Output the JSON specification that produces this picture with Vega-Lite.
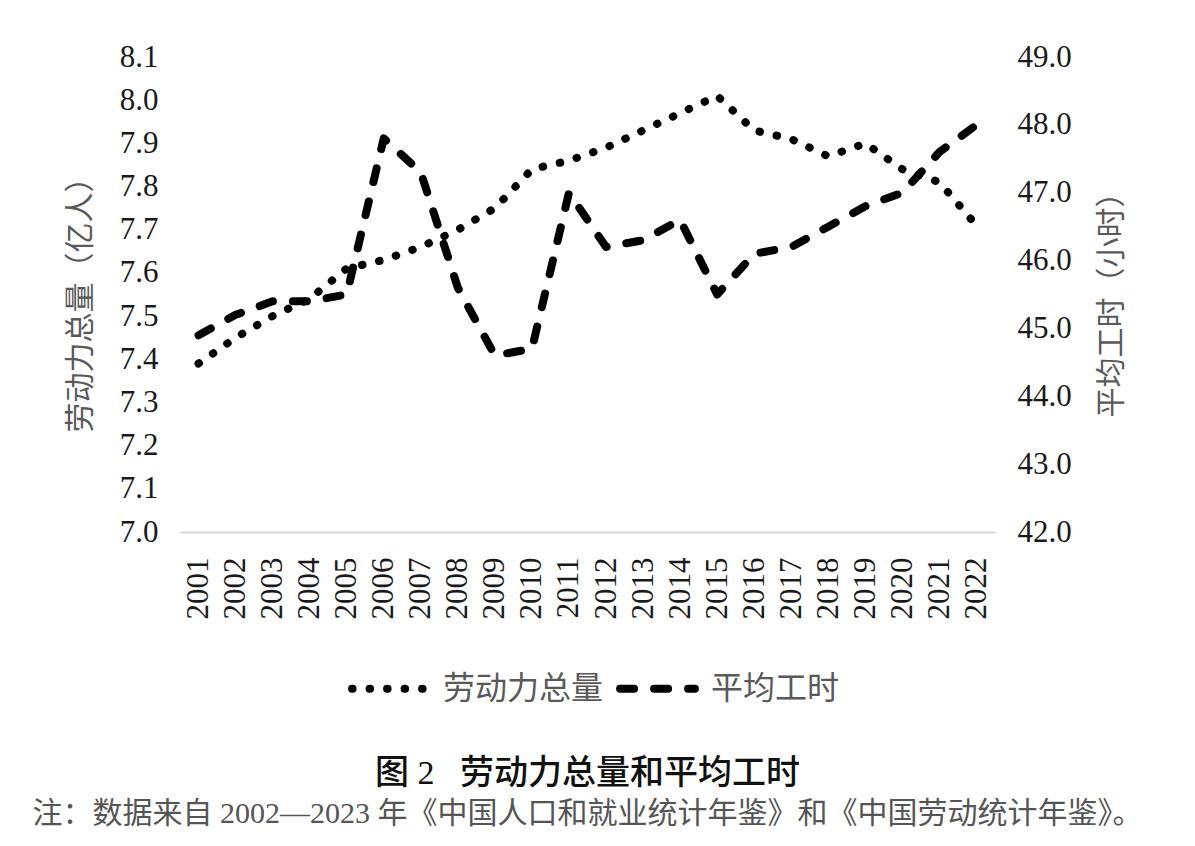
{
  "$schema": "https://vega.github.io/schema/vega-lite/v6.json",
  "width": 815,
  "height": 475,
  "autosize": {"type": "none"},
  "padding": {"left": 180, "top": 57, "right": 200, "bottom": 314},
  "background": "white",
  "title": {
    "text": "图 2\u00a0\u00a0 劳动力总量和平均工时",
    "subtitle": "注：数据来自 2002—2023 年《中国人口和就业统计年鉴》和《中国劳动统计年鉴》。",
    "orient": "bottom",
    "anchor": "middle",
    "offset": 52,
    "font": "Liberation Serif, Noto Sans CJK SC",
    "fontSize": 34,
    "fontWeight": 500,
    "color": "#111111",
    "subtitleFont": "Liberation Serif, Noto Sans CJK SC",
    "subtitleFontSize": 30,
    "subtitleColor": "#555555",
    "subtitlePadding": 8
  },
  "data": {
    "values": [
      {"year": "2001", "labor": 7.39, "hours": 44.9},
      {"year": "2002", "labor": 7.45, "hours": 45.2},
      {"year": "2003", "labor": 7.50, "hours": 45.4},
      {"year": "2004", "labor": 7.54, "hours": 45.4},
      {"year": "2005", "labor": 7.61, "hours": 45.5},
      {"year": "2006", "labor": 7.63, "hours": 47.8},
      {"year": "2007", "labor": 7.66, "hours": 47.3},
      {"year": "2008", "labor": 7.70, "hours": 45.6},
      {"year": "2009", "labor": 7.75, "hours": 44.6},
      {"year": "2010", "labor": 7.84, "hours": 44.7},
      {"year": "2011", "labor": 7.86, "hours": 47.0},
      {"year": "2012", "labor": 7.89, "hours": 46.2},
      {"year": "2013", "labor": 7.93, "hours": 46.3},
      {"year": "2014", "labor": 7.97, "hours": 46.6},
      {"year": "2015", "labor": 8.01, "hours": 45.5},
      {"year": "2016", "labor": 7.93, "hours": 46.1},
      {"year": "2017", "labor": 7.91, "hours": 46.2},
      {"year": "2018", "labor": 7.87, "hours": 46.5},
      {"year": "2019", "labor": 7.90, "hours": 46.8},
      {"year": "2020", "labor": 7.84, "hours": 47.0},
      {"year": "2021", "labor": 7.81, "hours": 47.6},
      {"year": "2022", "labor": 7.71, "hours": 48.0}
    ]
  },
  "encoding": {
    "x": {
      "field": "year",
      "type": "ordinal",
      "scale": {"type": "point", "padding": 0.5},
      "axis": {
        "title": null,
        "labelAngle": 270,
        "labelAlign": "right",
        "labelBaseline": "middle",
        "labelPadding": 25,
        "ticks": false,
        "domainColor": "#d9d9d9",
        "domainWidth": 2
      }
    }
  },
  "layer": [
    {
      "mark": {"type": "line", "color": "black", "strokeWidth": 8, "strokeCap": "round", "strokeJoin": "round"},
      "encoding": {
        "y": {
          "field": "labor",
          "type": "quantitative",
          "scale": {"domain": [7.0, 8.1], "zero": false, "nice": false},
          "axis": {
            "title": "劳动力总量（亿人）",
            "orient": "left",
            "values": [7.0, 7.1, 7.2, 7.3, 7.4, 7.5, 7.6, 7.7, 7.8, 7.9, 8.0, 8.1],
            "format": ".1f",
            "labelPadding": 22,
            "titleAngle": 270,
            "titleX": -100,
            "titleY": 240,
            "titleAlign": "center",
            "titleBaseline": "middle"
          }
        },
        "strokeDash": {"datum": "劳动力总量", "type": "nominal"}
      }
    },
    {
      "mark": {"type": "line", "color": "black", "strokeWidth": 8, "strokeCap": "round", "strokeJoin": "round"},
      "encoding": {
        "y": {
          "field": "hours",
          "type": "quantitative",
          "scale": {"domain": [42, 49], "zero": false, "nice": false},
          "axis": {
            "title": "平均工时（小时）",
            "orient": "right",
            "values": [42, 43, 44, 45, 46, 47, 48, 49],
            "format": ".1f",
            "labelPadding": 22,
            "titleAngle": 270,
            "titleX": 116,
            "titleY": 240,
            "titleAlign": "center",
            "titleBaseline": "middle"
          }
        },
        "strokeDash": {
          "datum": "平均工时",
          "type": "nominal",
          "scale": {"domain": ["劳动力总量", "平均工时"], "range": [[0.5, 17], [14, 20]]},
          "legend": {
            "title": null,
            "orient": "none",
            "direction": "horizontal",
            "legendX": 168,
            "legendY": 590,
            "symbolType": "stroke",
            "symbolSize": 5600,
            "symbolStrokeWidth": 8,
            "symbolStrokeColor": "black",
            "labelFontSize": 32,
            "labelColor": "#595959",
            "labelFont": "Liberation Serif, Noto Sans CJK SC",
            "labelLimit": 400,
            "labelOffset": 12,
            "columnPadding": 0,
            "encoding": {
              "symbols": {"strokeCap": {"value": "round"}}
            }
          }
        }
      }
    }
  ],
  "resolve": {"scale": {"y": "independent"}},
  "config": {
    "view": {"stroke": null},
    "axis": {
      "labelFont": "Liberation Serif",
      "labelFontSize": 31,
      "labelColor": "#1a1a1a",
      "titleFont": "Liberation Serif, Noto Sans CJK SC",
      "titleFontSize": 30,
      "titleFontWeight": "normal",
      "titleColor": "#595959",
      "grid": false
    },
    "axisY": {"ticks": false, "domain": false}
  }
}
